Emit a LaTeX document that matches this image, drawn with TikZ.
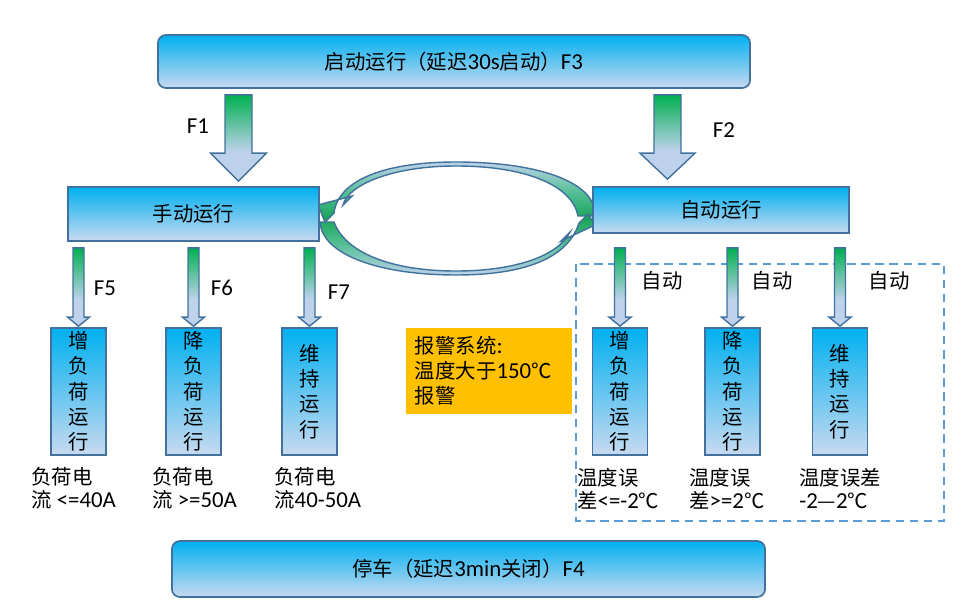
\documentclass[tikz,border=0pt]{standalone}
\usepackage{fontspec}
\setmainfont{Noto Sans CJK SC}
\newfontfamily\lat{Carlito}[Scale=1.12]
\usetikzlibrary{calc}

\definecolor{boxtop}{RGB}{0,176,240}
\definecolor{boxbot}{RGB}{200,218,240}
\definecolor{edge}{RGB}{65,113,156}
\definecolor{arrowgreen}{RGB}{0,176,80}
\definecolor{arrowblue}{RGB}{190,210,236}
\definecolor{loopgreen}{RGB}{16,160,80}
\definecolor{alarmfill}{RGB}{255,192,0}
\definecolor{dashblue}{RGB}{91,155,213}
\pgfdeclareverticalshading{arrowshade}{100bp}{color(0bp)=(arrowblue); color(25bp)=(arrowblue); color(42bp)=(arrowblue); color(75bp)=(arrowgreen); color(100bp)=(arrowgreen)}

\newdimen\pxunit
\pxunit=0.025cm
\newcommand{\blockarrow}[5]{%
  \path[flow] let \p1=#1, \p2=#2 in
    ({\x1-#3*\pxunit},\y1) -- ({\x1+#3*\pxunit},\y1) -- ({\x1+#3*\pxunit},{\y2+#5*\pxunit})
    -- ({\x1+#4*\pxunit},{\y2+#5*\pxunit}) -- (\x1,\y2) -- ({\x1-#4*\pxunit},{\y2+#5*\pxunit})
    -- ({\x1-#3*\pxunit},{\y2+#5*\pxunit}) -- cycle;}

\begin{document}
\begin{tikzpicture}[
            x=0.025cm, y=-0.025cm,
            runbox/.style={draw=edge, line width=1.2pt, top color=boxtop, bottom color=boxbot,
                inner sep=0pt, font=\fontsize{14.5}{17}\selectfont},
            bar/.style={runbox, rounded corners=0.2cm},
            subbox/.style={runbox, minimum width=1.375cm, minimum height=3.175cm, align=center,
                font=\fontsize{14.5}{18}\selectfont},
            flow/.style={draw=edge, line width=1pt, shade, shading=arrowshade},
            upperloop/.style={draw=edge, line width=1pt, top color=arrowblue, bottom color=loopgreen,
                middle color=arrowgreen!55!arrowblue},
            lowerloop/.style={draw=edge, line width=1pt, top color=loopgreen, bottom color=arrowblue,
                middle color=arrowgreen!55!arrowblue},
            note/.style={inner sep=0pt, anchor=west, align=left, font=\fontsize{14.5}{16.3}\selectfont},
            tag/.style={inner sep=0pt, font=\fontsize{14.5}{17}\selectfont},
            alarm/.style={fill=alarmfill, inner xsep=0.225cm, inner ysep=0pt, minimum width=4.15cm,
                minimum height=2.15cm, text width=3.7cm, align=left, font=\fontsize{14.5}{17.7}\selectfont},
            group/.style={draw=dashblue, line width=1.5pt, dash pattern=on 6pt off 4pt},
        ]
        \useasboundingbox (0,0) rectangle (978,604);

        \path[upperloop] (578,216) -- (593,216) -- (593,204)
            .. controls (582,178) and (530,162) .. (456,162)
            .. controls (385,162) and (338,180) .. (334,213)
            -- (325,222) -- (318,205) -- (352,196) -- (343,205)
            .. controls (348,185) and (392,166) .. (456,166)
            .. controls (525,166) and (572,185) .. (578,216) -- cycle;
        \path[lowerloop] (320,222) -- (334,222)
            .. controls (345,252) and (390,271) .. (456,271)
            .. controls (515,271) and (558,256) .. (570,232)
            -- (561,241) -- (595,225) -- (588,214) -- (579,223)
            .. controls (568,258) and (525,275) .. (456,275)
            .. controls (380,275) and (322,255) .. (320,222) -- cycle;

        \node[bar, minimum width=14.8cm, minimum height=1.325cm] (start) at (454,61.5)
            {启动运行（延迟{\lat 30s}启动）{\lat F3}};
        \node[bar, minimum width=14.825cm, minimum height=1.4cm] (stop) at (468.5,569)
            {停车（延迟{\lat 3min}关闭）{\lat F4}};
        \node[runbox, minimum width=6.275cm, minimum height=1.35cm] (manual) at (193.5,214) {手动运行};
        \node[runbox, minimum width=6.4cm, minimum height=1.15cm] (auto) at (721,210) {自动运行};

        \node[subbox] (m1) at (78.5,391.5) {增\\负\\荷\\运\\行};
        \node[subbox] (m2) at (193.5,391.5) {降\\负\\荷\\运\\行};
        \node[subbox] (m3) at (309.5,391.5) {维\\持\\运\\行};
        \node[subbox] (a1) at (620,391.5) {增\\负\\荷\\运\\行};
        \node[subbox] (a2) at (732.5,391.5) {降\\负\\荷\\运\\行};
        \node[subbox] (a3) at (840,391.5) {维\\持\\运\\行};

        \node[alarm] (warn) at (489,371) {报警系统{\lat :}\\温度大于{\lat 150}℃\\报警};
        \draw[group] (576,264) rectangle (944,521);

        \coordinate (f1x) at (238.5,0);
        \coordinate (f2x) at (667.5,0);
        \blockarrow{($(start.south -| f1x)+(0,6)$)}{($(manual.north -| f1x)+(0,-5)$)}{13.5}{28}{28}
        \blockarrow{($(start.south -| f2x)+(0,6)$)}{($(auto.north -| f2x)+(0,-7)$)}{13.5}{27.5}{26}
        \foreach \b in {m1, m2, m3}{
            \blockarrow{($(manual.south -| \b.north)+(0,6)$)}{($(\b.north)+(0,-1)$)}{5.5}{11}{9}
        }
        \foreach \b in {a1, a2, a3}{
            \blockarrow{($(auto.south -| \b.north)+(0,14)$)}{($(\b.north)+(0,-1)$)}{5.5}{11}{9}
        }

        \node[tag] (t1) at (198,126) {\lat F1};
        \node[tag] (t2) at (724,130) {\lat F2};
        \node[tag] (t5) at (105,288) {\lat F5};
        \node[tag] (t6) at (222,288) {\lat F6};
        \node[tag] (t7) at (339,292) {\lat F7};
        \node[tag] (s1) at (662,281) {自动};
        \node[tag] (s2) at (772,281) {自动};
        \node[tag] (s3) at (889,281) {自动};

        \node[note] (l1) at (31,488.5) {负荷电\\流{\lat\ <=40A}};
        \node[note] (l2) at (152,488.5) {负荷电\\流{\lat\ >=50A}};
        \node[note] (l3) at (274,488.5) {负荷电\\流{\lat 40-50A}};
        \node[note] (r1) at (577,488.5) {温度误\\差{\lat <=-2}℃};
        \node[note] (r2) at (689,488.5) {温度误\\差{\lat >=2}℃};
        \node[note] (r3) at (799,488.5) {温度误差\\{\lat -2}—{\lat 2}℃};
    \end{tikzpicture}
\end{document}
